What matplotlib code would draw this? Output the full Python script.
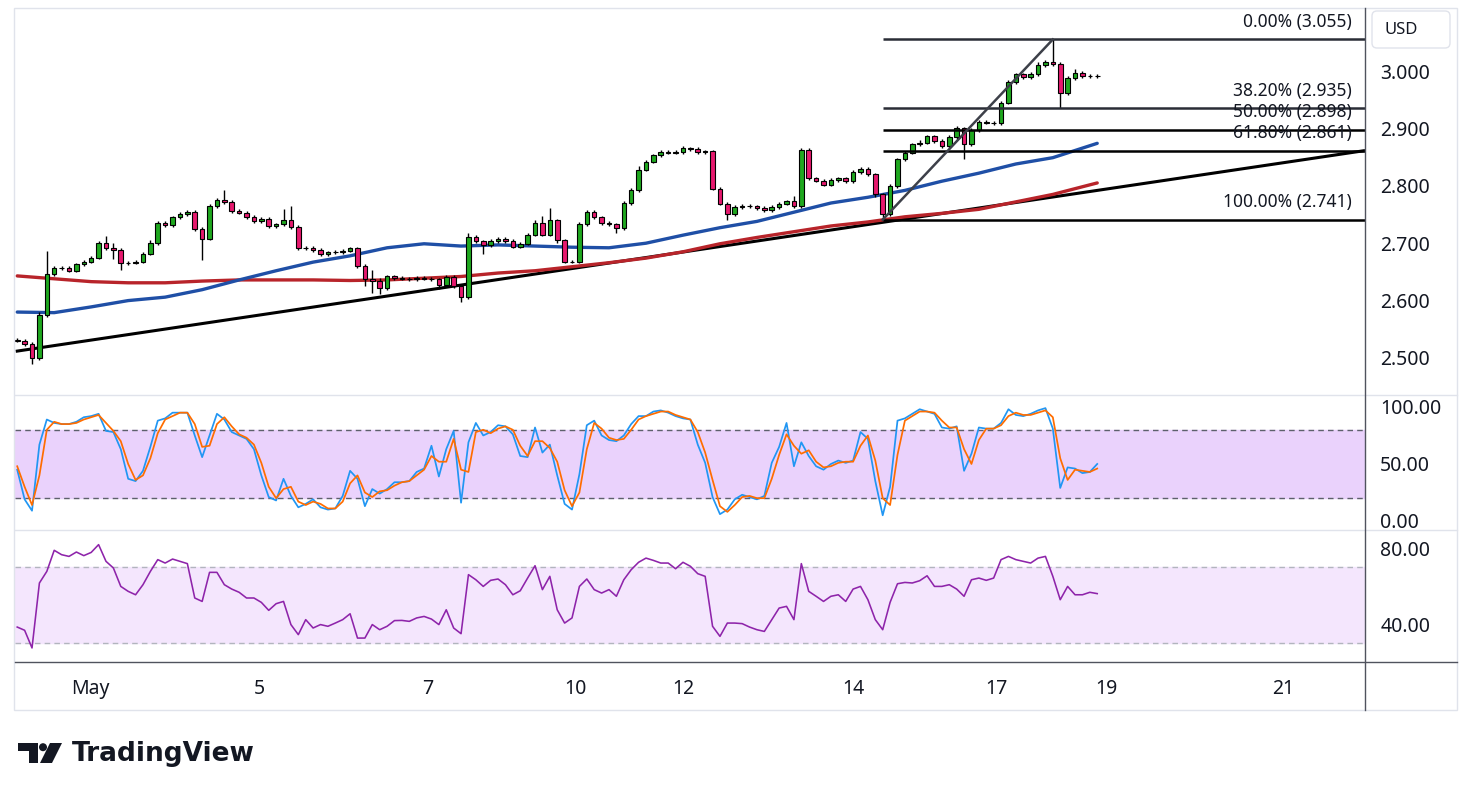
import numpy as np
import matplotlib.pyplot as plt
from matplotlib.patches import Polygon, Circle, FancyBboxPatch, Rectangle

plt.rcParams['font.family'] = ['Noto Sans', 'DejaVu Sans']

first_open = 2.532
closes = [
    2.530, 2.524, 2.500, 2.575, 2.646, 2.657, 2.657, 2.652, 2.663, 2.668,
    2.675, 2.700, 2.692, 2.688, 2.665, 2.666, 2.668, 2.682, 2.700, 2.735,
    2.731, 2.745, 2.751, 2.755, 2.725, 2.708, 2.765, 2.776, 2.772, 2.756,
    2.753, 2.746, 2.738, 2.742, 2.730, 2.733, 2.740, 2.728, 2.692, 2.692,
    2.688, 2.681, 2.684, 2.685, 2.687, 2.691, 2.660, 2.638, 2.634, 2.622,
    2.642, 2.639, 2.638, 2.637, 2.640, 2.638, 2.637, 2.628, 2.641, 2.625,
    2.606, 2.711, 2.703, 2.696, 2.704, 2.707, 2.704, 2.694, 2.699, 2.715,
    2.736, 2.715, 2.740, 2.705, 2.668, 2.668, 2.733, 2.754, 2.745, 2.735,
    2.733, 2.726, 2.770, 2.792, 2.828, 2.842, 2.853, 2.859, 2.858, 2.859,
    2.865, 2.864, 2.859, 2.860, 2.795, 2.769, 2.750, 2.763, 2.765, 2.764,
    2.761, 2.758, 2.763, 2.769, 2.773, 2.765, 2.862, 2.813, 2.809, 2.802,
    2.810, 2.813, 2.808, 2.824, 2.830, 2.820, 2.785, 2.750, 2.800, 2.846,
    2.858, 2.872, 2.875, 2.886, 2.878, 2.869, 2.885, 2.900, 2.872, 2.897,
    2.911, 2.910, 2.909, 2.945, 2.981, 2.994, 2.989, 2.995, 3.010, 3.016,
    3.012, 2.962, 2.988, 2.997, 2.991, 2.991, 2.992,
]
# wick lengths above / below the body, in thousandths
wick_up = [
    3, 3, 3, 5, 40, 4, 3, 3, 3, 3,
    3, 4, 12, 8, 3, 3, 3, 3, 5, 4,
    3, 3, 4, 3, 3, 3, 4, 3, 16, 3,
    3, 3, 3, 3, 3, 3, 20, 25, 3, 3,
    3, 3, 3, 3, 3, 3, 3, 3, 15, 5,
    3, 3, 3, 3, 3, 3, 3, 3, 3, 3,
    3, 6, 4, 3, 3, 3, 3, 3, 3, 3,
    4, 12, 22, 3, 3, 3, 4, 3, 3, 3,
    3, 3, 3, 4, 6, 3, 3, 3, 3, 3,
    5, 3, 3, 3, 3, 3, 3, 3, 3, 3,
    3, 3, 3, 3, 3, 10, 4, 3, 3, 3,
    3, 3, 3, 4, 3, 3, 3, 3, 3, 3,
    3, 3, 4, 3, 3, 3, 3, 5, 3, 3,
    3, 3, 3, 3, 3, 3, 3, 3, 5, 4,
    39, 3, 3, 6, 3, 3, 3,
]
wick_dn = [
    3, 3, 10, 3, 3, 3, 3, 3, 3, 3,
    3, 3, 3, 15, 12, 3, 3, 3, 3, 3,
    3, 3, 3, 3, 3, 38, 3, 3, 3, 3,
    3, 3, 3, 3, 3, 3, 3, 3, 3, 3,
    3, 3, 3, 3, 3, 3, 3, 12, 20, 10,
    3, 3, 3, 3, 3, 3, 3, 8, 3, 3,
    8, 3, 3, 15, 3, 3, 3, 3, 3, 3,
    3, 3, 3, 5, 3, 3, 3, 3, 3, 3,
    3, 8, 3, 3, 3, 3, 3, 3, 3, 3,
    3, 3, 3, 3, 3, 3, 10, 3, 3, 3,
    3, 3, 3, 3, 3, 3, 3, 3, 3, 3,
    3, 3, 3, 3, 3, 3, 5, 9, 3, 3,
    3, 3, 3, 3, 3, 3, 3, 3, 25, 3,
    3, 3, 3, 3, 3, 3, 3, 3, 3, 3,
    3, 27, 3, 3, 3, 3, 3,
]

ma_bars = [0, 5, 10, 15, 20, 25, 30, 35, 40, 45, 50, 55, 60, 65, 70,
           75, 80, 85, 90, 95, 100, 105, 110, 115, 120, 125, 130, 135, 140, 146]
ma_fast = [2.580, 2.579, 2.589, 2.600, 2.606, 2.619, 2.636, 2.652, 2.667, 2.678,
           2.692, 2.699, 2.695, 2.697, 2.695, 2.693, 2.692, 2.700, 2.714, 2.727,
           2.738, 2.754, 2.770, 2.780, 2.792, 2.808, 2.822, 2.838, 2.849, 2.874]
ma_slow = [2.643, 2.638, 2.633, 2.631, 2.631, 2.634, 2.636, 2.636, 2.636, 2.635,
           2.636, 2.639, 2.642, 2.648, 2.652, 2.659, 2.666, 2.674, 2.685, 2.699,
           2.710, 2.720, 2.730, 2.737, 2.746, 2.752, 2.759, 2.772, 2.785, 2.805]

stoch_k = [
    45, 19, 9, 67, 89, 86, 85, 85, 87, 91,
    92, 94, 79, 78, 63, 37, 35, 44, 65, 88,
    90, 95, 95, 95, 75, 56, 75, 94, 89, 78,
    75, 72, 63, 40, 21, 18, 37, 22, 12, 15,
    19, 12, 10, 11, 22, 44, 37, 13, 28, 24,
    28, 34, 34, 35, 43, 46, 66, 39, 63, 79,
    16, 69, 86, 75, 78, 84, 83, 76, 57, 56,
    82, 60, 67, 40, 15, 10, 41, 84, 88, 75,
    71, 70, 75, 85, 92, 92, 96, 97, 95, 92,
    90, 89, 67, 51, 21, 6, 10, 19, 23, 21,
    19, 22, 51, 65, 86, 48, 69, 57, 48, 45,
    50, 53, 51, 53, 78, 72, 35, 5, 30, 88,
    90, 94, 98, 96, 94, 82, 81, 83, 44, 59,
    82, 81, 81, 86, 98, 93, 92, 94, 97, 99,
    81, 29, 47, 46, 42, 43, 50,
]
stoch_d = [
    48, 30, 14, 40, 80, 87, 85, 85, 86, 89,
    91, 93, 86, 79, 70, 50, 36, 40, 55, 77,
    89, 92, 95, 95, 85, 65, 66, 85, 91, 83,
    76, 73, 67, 51, 30, 20, 28, 30, 17, 14,
    17, 15, 11, 11, 17, 33, 40, 25, 21, 26,
    27, 31, 34, 35, 40, 45, 57, 52, 52, 72,
    45, 43, 78, 80, 77, 81, 83, 80, 66, 57,
    70, 70, 64, 52, 27, 13, 25, 63, 86, 81,
    73, 71, 72, 80, 89, 92, 94, 96, 96, 93,
    91, 89, 78, 60, 36, 13, 8, 14, 21, 22,
    20, 20, 37, 58, 76, 66, 59, 62, 52, 47,
    48, 51, 52, 52, 66, 75, 53, 20, 14, 58,
    88, 92, 96, 96, 95, 88, 82, 82, 63, 50,
    71, 81, 81, 84, 92, 95, 93, 93, 95, 97,
    91, 55, 36, 45, 44, 43, 46,
]
rsi = [
    38.4, 36.7, 27.4, 61.6, 67.7, 78.8, 76.5, 75.6, 77.9, 76.0,
    77.7, 81.8, 73.0, 69.5, 59.8, 57.2, 55.4, 60.7, 67.7, 73.9,
    72.1, 74.2, 73.0, 71.8, 53.7, 51.9, 67.2, 67.2, 60.7, 58.4,
    56.7, 53.7, 53.7, 51.4, 47.2, 50.7, 51.9, 39.7, 34.4, 42.3,
    37.9, 39.7, 38.8, 40.5, 42.3, 45.4, 32.6, 32.6, 39.7, 37.0,
    38.8, 41.8, 41.9, 41.4, 43.2, 44.0, 42.6, 39.7, 47.5, 37.9,
    34.9, 66.0, 63.3, 59.8, 63.0, 63.7, 60.7, 55.4, 57.5, 64.2,
    70.7, 58.1, 65.1, 47.5, 40.5, 43.2, 59.8, 63.7, 58.1, 56.3,
    58.1, 54.6, 63.3, 68.6, 72.5, 74.7, 73.5, 72.1, 72.1, 69.1,
    72.5, 70.4, 66.5, 65.1, 38.8, 33.5, 40.5, 40.5, 40.2, 38.4,
    37.0, 36.1, 42.3, 48.4, 49.3, 42.3, 71.8, 57.2, 54.6, 51.9,
    54.6, 55.4, 51.9, 58.4, 59.8, 52.8, 42.3, 37.0, 51.4, 61.2,
    61.9, 61.6, 62.8, 65.4, 59.8, 59.8, 60.7, 58.4, 54.6, 63.3,
    64.2, 63.0, 64.2, 73.9, 75.6, 73.9, 73.0, 72.1, 74.7, 75.6,
    65.1, 52.8, 59.8, 55.4, 55.4, 56.7, 56.0,
]

trend_bars = [0, 182]
trend_prices = [2.512, 2.861]

fib_low_bar, fib_low = 117, 2.741
fib_high_bar, fib_high = 140, 3.055
fib_ratios = [0.0, 0.382, 0.5, 0.618, 1.0]

date_bars = [9.9, 32.8, 55.5, 75.5, 90, 113, 132.4, 147.3, 171.1]
date_labels = ['May', '5', '7', '10', '12', '14', '17', '19', '21']
price_ticks = [2.5, 2.6, 2.7, 2.8, 2.9, 3.0]

n = len(closes)
assert len(wick_up) == n and len(wick_dn) == n
assert len(stoch_k) == n and len(stoch_d) == n and len(rsi) == n
assert len(ma_bars) == len(ma_fast) == len(ma_slow)

bars = np.arange(n)
c = np.array(closes)
o = np.concatenate([[first_open], c[:-1]])
hi = np.maximum(o, c) + np.array(wick_up) / 1000
lo = np.minimum(o, c) - np.array(wick_dn) / 1000

# ---- layout (pixel based, figure 1473x800) ----
W, H = 1473, 800
fig = plt.figure(figsize=(W / 100, H / 100), dpi=100)
fig.patch.set_facecolor('white')

def frac(x0, y0, x1, y1):
    return [x0 / W, 1 - y1 / H, (x1 - x0) / W, (y1 - y0) / H]

ax = fig.add_axes(frac(15, 10, 1365, 395))
ax_st = fig.add_axes(frac(15, 395, 1365, 530), sharex=ax)
ax_rsi = fig.add_axes(frac(15, 530, 1365, 662), sharex=ax)

TXT = '#131722'
for a in (ax, ax_st, ax_rsi):
    for s in a.spines.values():
        s.set_visible(False)
    a.yaxis.tick_right()
    a.tick_params(axis='y', length=0, pad=11, labelsize=14, colors=TXT)
    a.tick_params(axis='x', length=0)

ax.set_xlim(-0.3, 182.2)

# ---- main price pane ----
ax.set_ylim(2.4355, 3.1063)
ax.set_yticks(price_ticks)
ax.set_yticklabels([f'{p:.3f}' for p in price_ticks])
ax.tick_params(axis='x', labelbottom=False)

ax.plot(trend_bars, trend_prices, color='black', lw=2.2, zorder=2)
ax.plot(ma_bars, ma_slow, color='#b8242a', lw=2.4, zorder=2.2, solid_capstyle='round')
ax.plot(ma_bars, ma_fast, color='#1f4fa6', lw=2.4, zorder=2.2, solid_capstyle='round')

up = c >= o
colors = np.where(up, '#1fa81f', '#e6196e')
ax.vlines(bars, lo, hi, color='black', lw=1.0, zorder=3)
ax.bar(bars, np.abs(c - o), bottom=np.minimum(o, c), width=0.62,
       color=colors, edgecolor='black', linewidth=0.8, zorder=4)

for r in fib_ratios:
    lvl = fib_high - r * (fib_high - fib_low)
    col = '#2a2d36' if r in (0.0, 0.382) else 'black'
    ax.plot([fib_low_bar, 182.2], [lvl, lvl], color=col, lw=1.8, zorder=5,
            solid_capstyle='butt')
    ax.annotate(f'{r * 100:.2f}% ({lvl:.3f})', xy=(0.9904, lvl),
                xycoords=('axes fraction', 'data'), xytext=(0, 9),
                textcoords='offset points', ha='right', va='baseline',
                fontsize=12.5, color=TXT, zorder=6)
ax.plot([fib_low_bar, fib_high_bar], [fib_low, fib_high], color='#3d4049',
        lw=1.8, zorder=5)

# ---- stochastic pane ----
ax_st.set_ylim(-7.9, 110.5)
ax_st.axhspan(20, 80, color='#ead2fc', zorder=0)
for lv in (20, 80):
    ax_st.axhline(lv, color='#5d606b', lw=1, dashes=(4, 3), zorder=1)
ax_st.plot(bars, stoch_k, color='#2196f3', lw=1.25, zorder=3)
ax_st.plot(bars, stoch_d, color='#ff6d00', lw=1.25, zorder=3)
ax_st.set_yticks([0, 50, 100])
ax_st.set_yticklabels(['0.00', '50.00', '100.00'])
ax_st.tick_params(axis='x', labelbottom=False)

# ---- RSI pane ----
ax_rsi.set_ylim(20, 89.5)
ax_rsi.axhspan(30, 70, color='#f4e6fd', zorder=0)
for lv in (30, 70):
    ax_rsi.axhline(lv, color='#b2b5be', lw=1, dashes=(4, 3), zorder=1)
ax_rsi.plot(bars, rsi, color='#8e24aa', lw=1.15, zorder=3)
ax_rsi.set_yticks([40, 80])
ax_rsi.set_yticklabels(['40.00', '80.00'])
ax_rsi.set_xticks(date_bars)
ax_rsi.set_xticklabels(date_labels)
ax_rsi.tick_params(axis='x', pad=12, labelsize=14, colors=TXT)

# ---- frame, price-axis box and logo in pixel coordinates ----
ov = fig.add_axes([0, 0, 1, 1], zorder=10)
ov.set_xlim(0, W)
ov.set_ylim(H, 0)
ov.axis('off')
ov.patch.set_alpha(0)

light = '#e0e3eb'
dark = '#50535e'
ov.add_patch(Rectangle((14, 8), 1443, 702, fill=False, edgecolor=light, lw=1))
for yy in (395, 530):
    ov.plot([15, 1457], [yy, yy], color=light, lw=1)
ov.plot([15, 1457], [662, 662], color=dark, lw=1)
ov.plot([1365, 1365], [8, 710], color=dark, lw=1)

ov.add_patch(FancyBboxPatch((1372, 11), 78, 37,
                            boxstyle='round,pad=0,rounding_size=5',
                            facecolor='white', edgecolor=light, lw=1))
ov.text(1384, 30, 'USD', ha='left', va='center', fontsize=12, color=TXT)

logo = '#131722'
ov.add_patch(Polygon([(18, 743), (37.5, 743), (37.5, 763), (28.5, 763),
                      (28.5, 750.5), (18, 750.5)], closed=True,
                     facecolor=logo, edgecolor='none'))
ov.add_patch(Circle((43, 747.2), 4.0, facecolor=logo, edgecolor='none'))
ov.add_patch(Polygon([(50, 743), (62, 743), (52, 763), (40, 763)], closed=True,
                     facecolor=logo, edgecolor='none'))
ov.text(72, 754, 'TradingView', ha='left', va='center', fontsize=19,
        family='DejaVu Sans', fontweight='bold', color=logo)

fig.savefig('out.png', dpi=100)
